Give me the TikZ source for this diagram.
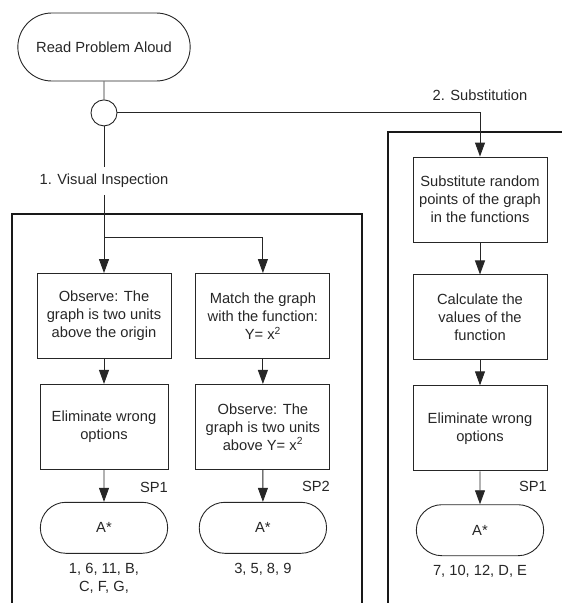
\documentclass[tikz,border=0pt]{standalone}
\usepackage{fontspec}
\setmainfont{Liberation Sans}
\usetikzlibrary{shapes.geometric, shapes.misc, arrows.meta, positioning}
\tikzstyle{terminal} = [
  rounded rectangle,
  minimum width=134pt,
  minimum height=51pt,
  text centered,
  draw=black!85,
  line width=0.9pt
]
\tikzstyle{process} = [
  rectangle,
  minimum width=134pt,
  minimum height=85pt,
  inner sep=2pt,
  align=center,
  draw=black!85,
  line width=0.9pt
]
\tikzstyle{junction} = [
  circle,
  minimum size=26pt,
  inner sep=0pt,
  draw=black!85,
  line width=0.9pt
]
\tikzstyle{arrow} = [line width=0.9pt, draw=black!85, -{Triangle[length=14pt, width=10pt]}]
\tikzstyle{line} = [line width=0.9pt, draw=black!85]
\tikzstyle{frame} = [line width=1.8pt, draw=black!90]

\begin{document}
\begin{tikzpicture}[x=1pt, y=1pt, text=black!85, font=\fontsize{14.7}{18}\selectfont]
    \clip (0,0) rectangle (562,-603);
    % frames round the two strategies
    \draw [frame] (12,-640) -- (12,-214) -- (362,-214) -- (362,-640);
    \draw [frame] (388,-640) -- (388,-132) -- (600,-132);

    \node (read-aloud) [terminal, minimum width=179pt, minimum height=68pt] at (104,-47) {Read Problem Aloud};
    \node (split) [junction, below=18pt of read-aloud] {};
    \node (visual-label) [below=41pt of split, minimum height=27pt, inner sep=0pt] {1. Visual Inspection};
    \coordinate (fork) at (104,-237);

    \node (observe-origin) [process] at (104,-316) {Observe: The\\graph is two units\\above the origin};
    \node (match-graph) [process, right=24pt of observe-origin] {Match the graph\\with the function:\\Y= x\textsuperscript{2}};
    \node (eliminate-left) [process, minimum width=128pt, below=25pt of observe-origin] {Eliminate wrong\\options};
    \node (observe-shift) [process, below=25pt of match-graph] {Observe: The\\graph is two units\\above Y= x\textsuperscript{2}};
    \node (answer-left) [terminal, below=32pt of eliminate-left] {A*};
    \node (answer-middle) [terminal, below=32pt of observe-shift] {A*};
    \node (items-left) [below=6pt of answer-left, align=center] {1, 6, 11, B,\\C, F, G,};
    \node (items-middle) [below=6pt of answer-middle] {3, 5, 8, 9};
    \node (sp-left) [anchor=east, inner sep=0pt] at (168,-487) {SP1};
    \node (sp-middle) [anchor=east, inner sep=0pt] at (330,-486) {SP2};

    \node (substitute) [process] at (480,-199.5) {Substitute random\\points of the graph\\in the functions};
    \node (calculate) [process, below=32pt of substitute] {Calculate the\\values of the\\function};
    \node (eliminate-right) [process, below=25pt of calculate] {Eliminate wrong\\options};
    \node (answer-right) [terminal, below=33pt of eliminate-right] {A*};
    \node (items-right) [below=6pt of answer-right] {7, 10, 12, D, E};
    \node (sp-right) [anchor=east, inner sep=0pt] at (547,-486) {SP1};

    \draw [line] (read-aloud) -- (split);
    \draw [line] (split) -- (visual-label);
    \draw [arrow] (visual-label) -- (observe-origin);
    \draw [arrow] (fork) -| (match-graph);
    \draw [arrow] (split) -| node[pos=0.5, above=8pt] {2. Substitution} (substitute);
    \draw [arrow] (observe-origin) -- (eliminate-left);
    \draw [arrow] (match-graph) -- (observe-shift);
    \draw [arrow] (eliminate-left) -- (answer-left);
    \draw [arrow] (observe-shift) -- (answer-middle);
    \draw [arrow] (substitute) -- (calculate);
    \draw [arrow] (calculate) -- (eliminate-right);
    \draw [arrow] (eliminate-right) -- (answer-right);
\end{tikzpicture}
\end{document}
